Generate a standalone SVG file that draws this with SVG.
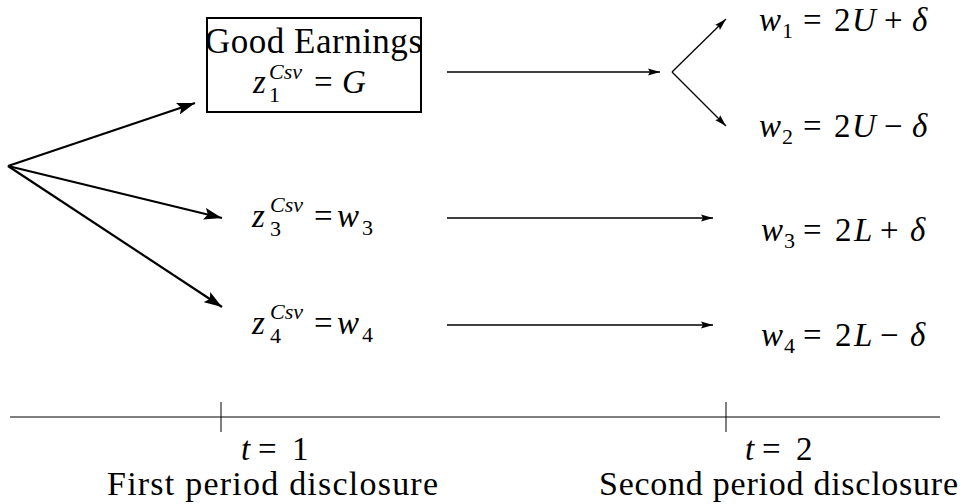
<svg xmlns="http://www.w3.org/2000/svg" width="963" height="504" viewBox="0 0 963 504">
<style>
.t{font-family:"Liberation Serif","Times New Roman",serif;fill:#000}
.m{font-size:33px}
.s{font-size:22px}
.i{font-style:italic}
.big{font-size:34px}
.thick{stroke:#000;stroke-width:2.2;fill:none}
.thin{stroke:#000;stroke-width:1.3;fill:none}
</style>
<defs>
<marker id="ah" markerUnits="userSpaceOnUse" markerWidth="20" markerHeight="12" refX="18" refY="6" orient="auto"><path d="M0,0 L18,6 L0,12 L3.5,6 Z" fill="#000"/></marker>
<marker id="as" markerUnits="userSpaceOnUse" markerWidth="14" markerHeight="8" refX="12" refY="4" orient="auto"><path d="M0,0.5 L12,4 L0,7.5 L2,4 Z" fill="#000"/></marker>
</defs>
<rect width="963" height="504" fill="#fff"/>
<g id="connectors">
<path class="thick" d="M8,166 L195,103" marker-end="url(#ah)"/>
<path class="thick" d="M8,166 L222,218" marker-end="url(#ah)"/>
<path class="thick" d="M8,166 L222,307" marker-end="url(#ah)"/>
<path class="thin" d="M447,72 L660,72" marker-end="url(#as)"/>
<path class="thin" d="M447,218 L713,218" marker-end="url(#as)"/>
<path class="thin" d="M447,325 L713,325" marker-end="url(#as)"/>
<path class="thin" d="M672,72 L726,19" marker-end="url(#as)"/>
<path class="thin" d="M672,72 L726,126" marker-end="url(#as)"/>
</g>
<g id="node-good">
<rect x="207" y="18" width="214" height="94" fill="none" stroke="#000" stroke-width="2"/>
<text class="t" x="205" y="53" font-size="35" textLength="217">Good Earnings</text>
<text class="t m i" x="253" y="93">z</text>
<text class="t s i" x="269" y="79">Csv</text>
<text class="t s" x="269" y="102">1</text>
<text class="t m" x="314" y="93">=</text>
<text class="t m i" x="342" y="93">G</text>
</g>
<g id="node-z3">
<text class="t m i" x="252" y="227">z</text>
<text class="t s i" x="270" y="212">Csv</text>
<text class="t s" x="270" y="236">3</text>
<text class="t m" x="314" y="227">=</text>
<text class="t m i" x="337" y="227">w</text>
<text class="t s" x="362" y="235">3</text>
</g>
<g id="node-z4">
<text class="t m i" x="252" y="334">z</text>
<text class="t s i" x="270" y="319">Csv</text>
<text class="t s" x="270" y="343">4</text>
<text class="t m" x="314" y="334">=</text>
<text class="t m i" x="337" y="334">w</text>
<text class="t s" x="362" y="342">4</text>
</g>
<g id="node-w1">
<text class="t m i" x="759" y="31">w</text>
<text class="t s" x="782" y="38">1</text>
<text class="t m" x="803" y="31">=</text>
<text class="t m" x="834" y="31">2</text>
<text class="t m i" x="852" y="31">U</text>
<text class="t m" x="884" y="31">+</text>
<text class="t m i" x="912" y="31">δ</text>
</g>
<g id="node-w2">
<text class="t m i" x="759" y="137">w</text>
<text class="t s" x="782" y="144">2</text>
<text class="t m" x="803" y="137">=</text>
<text class="t m" x="834" y="137">2</text>
<text class="t m i" x="852" y="137">U</text>
<text class="t m" x="884" y="137">−</text>
<text class="t m i" x="912" y="137">δ</text>
</g>
<g id="node-w3">
<text class="t m i" x="761" y="241">w</text>
<text class="t s" x="784" y="248">3</text>
<text class="t m" x="803" y="241">=</text>
<text class="t m" x="835" y="241">2</text>
<text class="t m i" x="854" y="241">L</text>
<text class="t m" x="880" y="241">+</text>
<text class="t m i" x="910" y="241">δ</text>
</g>
<g id="node-w4">
<text class="t m i" x="761" y="346">w</text>
<text class="t s" x="784" y="353">4</text>
<text class="t m" x="803" y="346">=</text>
<text class="t m" x="835" y="346">2</text>
<text class="t m i" x="854" y="346">L</text>
<text class="t m" x="880" y="346">−</text>
<text class="t m i" x="910" y="346">δ</text>
</g>
<g id="timeline">
<line x1="10" y1="417" x2="940" y2="417" stroke="#000" stroke-width="1.2"/>
<line x1="221" y1="402" x2="221" y2="432" stroke="#000" stroke-width="1"/>
<line x1="726" y1="402" x2="726" y2="432" stroke="#000" stroke-width="1"/>
</g>
<g id="label-t1">
<text class="t m i" x="241" y="460">t</text>
<text class="t m" x="258" y="460">=</text>
<text class="t m" x="292" y="460">1</text>
<text class="t big" x="107" y="495" textLength="331">First period disclosure</text>
</g>
<g id="label-t2">
<text class="t m i" x="745" y="460">t</text>
<text class="t m" x="762" y="460">=</text>
<text class="t m" x="796" y="460">2</text>
<text class="t big" x="599" y="495" textLength="359">Second period disclosure</text>
</g>
</svg>
